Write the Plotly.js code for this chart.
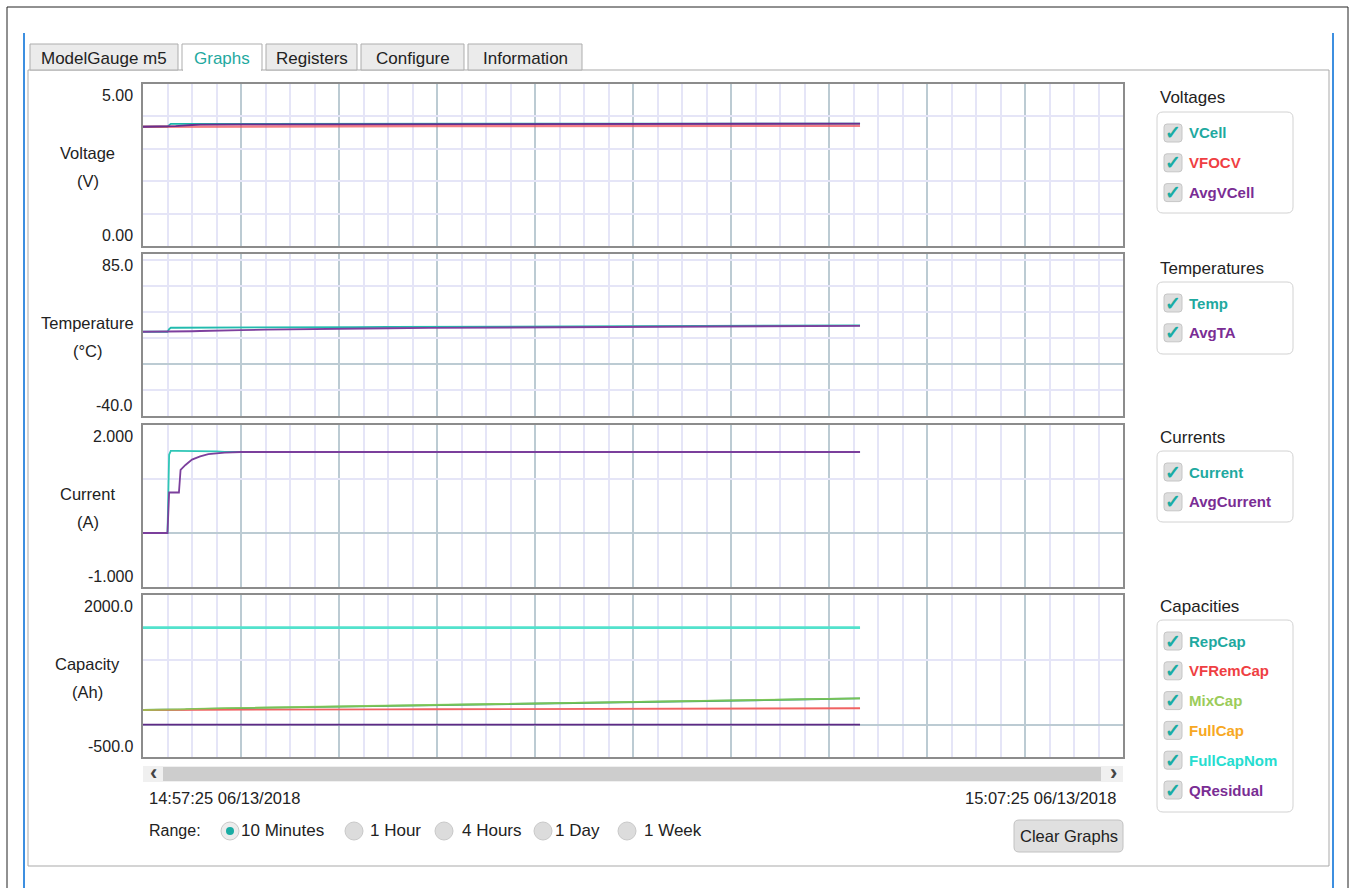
<!DOCTYPE html>
<html><head><meta charset="utf-8">
<script src="https://cdn.plot.ly/plotly-3.0.1.min.js"></script>
<style>html,body{margin:0;padding:0;background:#fff;overflow:hidden}#chart{width:1351px;height:888px}</style>
</head><body><div id="chart"></div>
<script>
// ---------------- DATA ----------------
const timeSec = [0, 8, 15, 16, 17, 20, 22, 23, 26, 30, 35, 40, 45, 50, 60, 75, 90, 110, 130, 150, 175, 200, 225, 250, 275, 300, 325, 350, 375, 400, 420, 439];

const vCell    = [3.68,3.68,3.68,3.73,3.77,3.77,3.77,3.77,3.77,3.77,3.77,3.77,3.77,3.76,3.76,3.76,3.76,3.76,3.76,3.76,3.765,3.77,3.77,3.77,3.77,3.77,3.775,3.775,3.78,3.78,3.78,3.78];
const vfocv    = [3.68,3.68,3.68,3.68,3.68,3.685,3.69,3.69,3.69,3.69,3.69,3.695,3.695,3.695,3.70,3.70,3.70,3.70,3.70,3.70,3.70,3.705,3.705,3.705,3.705,3.71,3.71,3.71,3.71,3.715,3.715,3.715];
const avgVCell = [3.68,3.68,3.68,3.68,3.685,3.70,3.71,3.715,3.725,3.735,3.745,3.75,3.752,3.754,3.756,3.756,3.756,3.757,3.757,3.758,3.76,3.762,3.764,3.765,3.766,3.767,3.768,3.77,3.772,3.774,3.775,3.776];

const temp  = [25.0,25.0,25.0,27.0,28.1,28.1,28.1,28.1,28.1,28.1,28.1,28.2,28.2,28.2,28.3,28.3,28.4,28.5,28.6,28.7,28.8,28.9,29.0,29.1,29.2,29.3,29.4,29.5,29.6,29.7,29.8,29.9];
const avgTA = [25.0,25.0,25.0,25.0,25.0,25.1,25.2,25.2,25.3,25.4,25.6,25.8,25.9,26.1,26.3,26.6,26.9,27.2,27.5,27.7,28.0,28.2,28.4,28.6,28.8,28.9,29.1,29.2,29.3,29.4,29.5,29.6];

const current    = [0,0,0,1.45,1.52,1.52,1.52,1.52,1.52,1.52,1.52,1.52,1.51,1.50,1.50,1.50,1.50,1.50,1.50,1.50,1.50,1.50,1.50,1.50,1.50,1.50,1.50,1.50,1.50,1.50,1.50,1.50];
const avgCurrent = [0,0,0,0.75,0.75,0.75,0.75,1.17,1.26,1.36,1.42,1.46,1.48,1.49,1.50,1.50,1.50,1.50,1.50,1.50,1.50,1.50,1.50,1.50,1.50,1.50,1.50,1.50,1.50,1.50,1.50,1.50];

const repCap     = [225,225,225,226,227,230,232,233,236,240,243,246,249,251,255,261,267,274,281,289,298,307,316,326,336,346,356,366,376,387,396,404];
const vfRemCap   = [225,225,225,225,225,225,226,226,226,227,227,228,228,229,230,231,232,233,234,236,237,239,240,242,243,245,246,248,249,250,251,252];
const mixCap     = [225,225,225,226,228,232,234,235,238,242,245,248,251,253,257,263,269,276,283,291,300,309,318,328,338,348,358,368,378,389,398,406];
const fullCap    = [1496,1496,1496,1496,1496,1496,1496,1496,1496,1496,1496,1496,1496,1496,1496,1496,1496,1496,1496,1496,1496,1496,1496,1496,1496,1496,1496,1496,1496,1496,1496,1496];
const fullCapNom = [1496,1496,1496,1496,1496,1496,1496,1496,1496,1496,1496,1496,1496,1496,1496,1496,1496,1496,1496,1496,1496,1496,1496,1496,1496,1496,1496,1496,1496,1496,1496,1496];
const qResidual  = [0,0,0,0,0,0,0,0,0,0,0,0,0,0,0,0,0,0,0,0,0,0,0,0,0,0,0,0,0,0,0,0];

const windowSec = [0, 600];
const startLabel = '14:57:25 06/13/2018';
const endLabel   = '15:07:25 06/13/2018';

const panelTitles = [['Voltage','(V)'],['Temperature','(°C)'],['Current','(A)'],['Capacity','(Ah)']];
const yRanges     = [[0,5],[-40,85],[-1,2],[-500,2000]];
const yTickText   = [['0.00','5.00'],['-40.0','85.0'],['-1.000','2.000'],['-500.0','2000.0']];
const yGridVals   = [[1,2,3,4],[-20,20,40,60,80],[1],[1000]];

const groupTitles = ['Voltages','Temperatures','Currents','Capacities'];
const groupNames  = [['VCell','VFOCV','AvgVCell'],['Temp','AvgTA'],['Current','AvgCurrent'],['RepCap','VFRemCap','MixCap','FullCap','FullCapNom','QResidual']];
const groupSeries = [[vCell,vfocv,avgVCell],[temp,avgTA],[current,avgCurrent],[repCap,vfRemCap,mixCap,fullCap,fullCapNom,qResidual]];

const tabLabels   = ['ModelGauge m5','Graphs','Registers','Configure','Information'];
const rangeLabels = ['10 Minutes','1 Hour','4 Hours','1 Day','1 Week'];
const buttonLabel = 'Clear Graphs';

// ---------------- STYLE ----------------
const lineColors = {
  VCell:'#1db5aa', VFOCV:'rgba(238,82,92,0.75)', AvgVCell:'#6a2d8f',
  Temp:'#22bbae', AvgTA:'#7e3f9e',
  Current:'#2fc6b6', AvgCurrent:'#7b3f9c',
  RepCap:'#2a9a70', VFRemCap:'#f06262', MixCap:'rgba(140,205,80,0.8)', FullCap:'#f5a623', FullCapNom:'#52e2cc', QResidual:'#5e2a86'
};
const lineWidths = {FullCap:1.0, FullCapNom:2.6, VFOCV:2.5};
const textColors = {
  VCell:'#1fa9a0', VFOCV:'#ef3f43', AvgVCell:'#7a2d94',
  Temp:'#1fa9a0', AvgTA:'#7a2d94',
  Current:'#1fa9a0', AvgCurrent:'#7a2d94',
  RepCap:'#1fa9a0', VFRemCap:'#ef3f43', MixCap:'#9bcc5a', FullCap:'#f7a823', FullCapNom:'#26ddd0', QResidual:'#7a2d94'
};

const W = 1351, H = 888;
const FONT = 'Liberation Sans, Arial, sans-serif';
const px = x => x / W;
const py = y => 1 - y / H;
const plotBoxes = [[84,246],[254,416],[425,587],[595,757]];
const plotX = [143, 1123];

const shapes = [];
const annotations = [];

function rect(x0,y0,x1,y1,fill,line,lw){
  shapes.push({type:'rect',xref:'paper',yref:'paper',x0:px(x0),x1:px(x1),y0:py(y1),y1:py(y0),
    fillcolor:fill,line:{color:line,width:lw},layer:'above'});
}
function seg(x0,y0,x1,y1,color,lw){
  shapes.push({type:'line',xref:'paper',yref:'paper',x0:px(x0),x1:px(x1),y0:py(y0),y1:py(y1),
    line:{color:color,width:lw},layer:'above'});
}
function rrect(x0,y0,x1,y1,r,fill,line,lw){
  const P=(x,y)=>px(x)+','+py(y);
  const path='M'+P(x0+r,y0)+' L'+P(x1-r,y0)+' Q'+P(x1,y0)+' '+P(x1,y0+r)+' L'+P(x1,y1-r)+' Q'+P(x1,y1)+' '+P(x1-r,y1)+
    ' L'+P(x0+r,y1)+' Q'+P(x0,y1)+' '+P(x0,y1-r)+' L'+P(x0,y0+r)+' Q'+P(x0,y0)+' '+P(x0+r,y0)+' Z';
  shapes.push({type:'path',xref:'paper',yref:'paper',path:path,fillcolor:fill,line:{color:line,width:lw},layer:'above'});
}
function circ(cx,cy,r,fill,line,lw){
  shapes.push({type:'circle',xref:'paper',yref:'paper',x0:px(cx-r),x1:px(cx+r),y0:py(cy+r),y1:py(cy-r),
    fillcolor:fill,line:{color:line,width:lw},layer:'above'});
}
function text(t,x,y,opts){
  opts = opts||{};
  annotations.push({text:t,xref:'paper',yref:'paper',x:px(x),y:py(y),showarrow:false,
    xanchor:opts.xanchor||'left',yanchor:'middle',
    font:{family:FONT,size:opts.size||16,color:opts.color||'#222',weight:opts.weight||'normal'}});
}

// ---------------- FRAME / TABS ----------------
rect(7,7,1348,900,'rgba(0,0,0,0)','#222',1);
seg(24,33,24,888,'#3d8fe0',2);
seg(1333,33,1333,888,'#3d8fe0',2);
rect(28,70,1329,866,'rgba(0,0,0,0)','#a9a9a9',1);

const tabX = [[30,178],[182,262],[266,357],[361,464],[468,582]];
tabLabels.forEach((lab,i)=>{
  const [a,b] = tabX[i];
  const sel = (i===1);
  rect(a,44,b,70, sel?'#ffffff':'#ebebeb','#adadad',1);
  if(sel) seg(a+1,70,b-1,70,'#ffffff',2);
  text(lab,(a+b)/2,58,{xanchor:'center',size:17,color: sel?'#1fa9a0':'#222'});
});

// ---------------- PLOTS ----------------
const layout = {
  width:W, height:H, margin:{l:0,r:0,t:0,b:0},
  paper_bgcolor:'#ffffff', plot_bgcolor:'#ffffff', showlegend:false,
  font:{family:FONT,size:16,color:'#222'}
};
const traces = [];
plotBoxes.forEach((bx,i)=>{
  const sfx = i===0 ? '' : String(i+1);
  layout['xaxis'+sfx] = {
    domain:[px(plotX[0]),px(plotX[1])], range:windowSec, anchor:'y'+sfx,
    tick0:0, dtick:60, showgrid:true, gridcolor:'#bccbd3', gridwidth:2,
    minor:{dtick:15, showgrid:true, gridcolor:'#e5e5f7', gridwidth:2, ticks:''},
    showticklabels:false, ticks:'', zeroline:false,
    showline:true, mirror:true, linecolor:'#8c8c8c', linewidth:2, fixedrange:true
  };
  if(i>0) layout['xaxis'+sfx].matches = 'x';
  layout['yaxis'+sfx] = {
    domain:[py(bx[1]),py(bx[0])], range:yRanges[i], anchor:'x'+sfx,
    tickmode:'array', tickvals:yGridVals[i], showgrid:true, gridcolor:'#e5e5f7', gridwidth:2,
    zeroline:true, zerolinecolor:'#bccbd3', zerolinewidth:2,
    showticklabels:false, ticks:'',
    showline:true, mirror:true, linecolor:'#8c8c8c', linewidth:2, fixedrange:true
  };
  annotations.push({text:yTickText[i][1],xref:'paper',yref:'y'+sfx,x:px(135),y:yRanges[i][1],
    xanchor:'right',yanchor:'top',yshift:-1,showarrow:false,font:{family:FONT,size:16,color:'#222'}});
  annotations.push({text:yTickText[i][0],xref:'paper',yref:'y'+sfx,x:px(135),y:yRanges[i][0],
    xanchor:'right',yanchor:'bottom',yshift:0,showarrow:false,font:{family:FONT,size:16,color:'#222'}});
  annotations.push({text:panelTitles[i][0],xref:'paper',yref:'y'+sfx+' domain',x:px(88),y:0.574,
    xanchor:'center',yanchor:'middle',showarrow:false,font:{family:FONT,size:16.5,color:'#222'}});
  annotations.push({text:panelTitles[i][1],xref:'paper',yref:'y'+sfx+' domain',x:px(88),y:0.40,
    xanchor:'center',yanchor:'middle',showarrow:false,font:{family:FONT,size:16.5,color:'#222'}});

  groupNames[i].forEach((nm,j)=>{
    traces.push({x:timeSec, y:groupSeries[i][j], type:'scatter', mode:'lines',
      xaxis:'x'+sfx, yaxis:'y'+sfx, name:nm,
      line:{color:lineColors[nm], width: lineWidths[nm] || 1.8},
      hoverinfo:'skip', showlegend:false});
  });
});

// ---------------- RIGHT-SIDE CHECKBOX GROUPS ----------------
const grpTitleY = [97,268,437,606];
const grpBoxTop = [112,282,451,620];
const grpBoxBot = [213,354,522,812];
groupTitles.forEach((g,i)=>{
  text(g,1158,grpTitleY[i],{size:17});
  rrect(1157,grpBoxTop[i],1293,grpBoxBot[i],6,'rgba(0,0,0,0)','#d2d2d2',1);
  groupNames[i].forEach((nm,j)=>{
    const cy = grpBoxTop[i] + 21 + j*29.8;
    rrect(1164,cy-9,1182,cy+9,3,'#dedede','#c6c6c6',1);
    text('✓',1173,cy,{xanchor:'center',color:'#1aaca3',size:19,weight:'bold'});
    text(nm,1187,cy,{color:textColors[nm],size:15,weight:'bold'});
  });
});

// ---------------- SCROLLBAR / TIME LABELS ----------------
rect(143,766,1123,782,'#f0f0f0','rgba(0,0,0,0)',0);
rect(163,767,1101,781,'#cdcdcd','rgba(0,0,0,0)',0);
text('‹',153,772,{xanchor:'center',size:22,weight:'bold',color:'#444'});
text('›',1113,772,{xanchor:'center',size:22,weight:'bold',color:'#444'});
text(startLabel,147,798,{size:16.5});
text(endLabel,1118,798,{xanchor:'right',size:16.5});

// ---------------- RANGE RADIOS ----------------
text('Range:',147,830,{});
const radioX = [230,354,444,543,627];
const radioLabelX = [239,368,460,553,642];
rangeLabels.forEach((lab,i)=>{
  if(i===0){
    circ(radioX[i],831,9,'#ececec','#c9c9c9',1);
    circ(radioX[i],831,4,'#1aaca3','#1aaca3',0);
  } else {
    circ(radioX[i],831,9,'#dcdcdc','#c9c9c9',1);
  }
  text(lab,radioLabelX[i],830,{size:17});
});

// ---------------- CLEAR BUTTON ----------------
rrect(1014,820,1123,852,5,'#e0e0e0','#c2c2c2',1);
text(buttonLabel,1068.5,836,{xanchor:'center',size:16.5});

layout.shapes = shapes;
layout.annotations = annotations;

Plotly.newPlot('chart', traces, layout, {staticPlot:true, displayModeBar:false});
</script>
</body></html>
